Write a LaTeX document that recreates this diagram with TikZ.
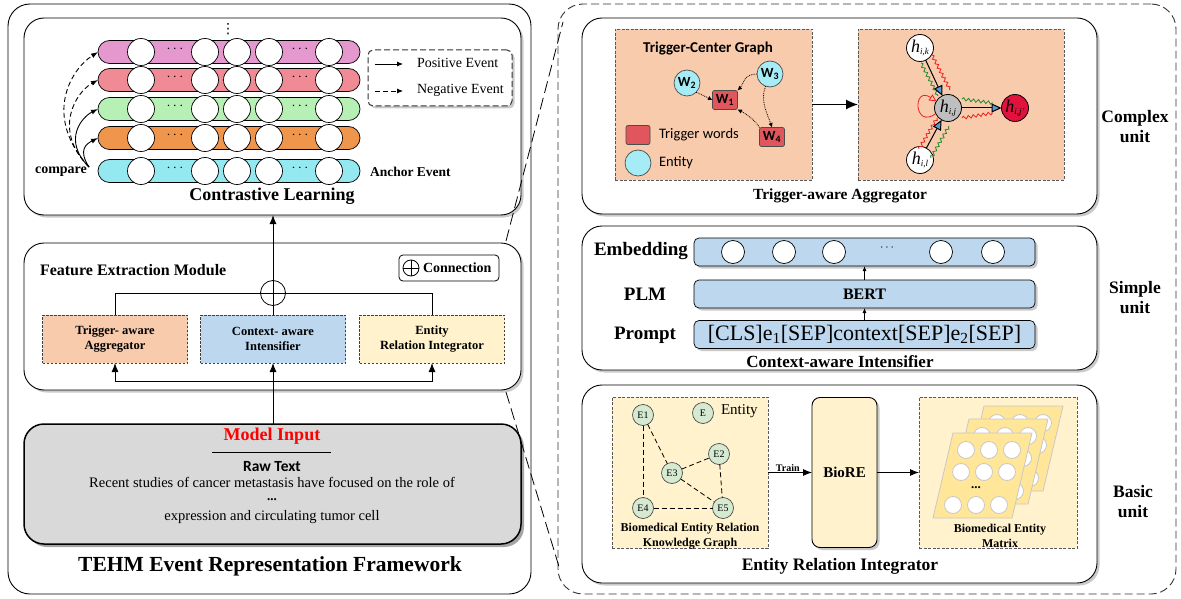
\documentclass[tikz,border=0pt]{standalone}
\usepackage{fontspec}
\setmainfont{Liberation Serif}
\newfontfamily\calib{Carlito}
\newfontfamily\dejavu{DejaVu Sans}
\usetikzlibrary{arrows.meta,shadows,decorations.pathmorphing,calc}
\definecolor{cpink}{RGB}{228,152,206}
\definecolor{cred}{RGB}{240,138,148}
\definecolor{cgreen}{RGB}{182,240,180}
\definecolor{corange}{RGB}{239,150,76}
\definecolor{ccyan}{RGB}{148,232,240}
\definecolor{porange}{RGB}{248,203,173}
\definecolor{pblue}{RGB}{189,215,238}
\definecolor{pyellow}{RGB}{255,242,204}
\definecolor{pgrey}{RGB}{217,217,217}
\definecolor{trig}{RGB}{224,86,92}
\definecolor{ent}{RGB}{166,236,246}
\definecolor{hred}{RGB}{226,18,62}
\definecolor{hgrey}{RGB}{191,191,191}
\definecolor{arrblue}{RGB}{91,155,213}
\definecolor{wgreen}{RGB}{30,140,40}
\definecolor{wred}{RGB}{240,30,30}
\definecolor{kgnode}{RGB}{214,234,210}
\definecolor{sheet}{RGB}{255,230,153}
\definecolor{sheetline}{RGB}{200,200,200}
\newcommand\fsz[2]{\fontsize{#1}{#2}\selectfont}
\newcommand\hsub[1]{\textit{h}\raisebox{-2.5pt}{\fsz{9}{9}\itshape #1}}
\newcommand\evrow[3]{%
  \node[capsule, fill=#3] (#1) at (229,#2) {};
  \foreach \cx/\k in {141/a,205/b,237/c,269/d,329/e}{\node[ecirc] (#1\k) at (\cx,#2) {};}
  \node[dotsn] (#1dl) at (175,#2-3) {$\cdots$};
  \node[dotsn] (#1dr) at (300,#2-3) {$\cdots$};
}
\newcommand\sheetat[3]{%
  \filldraw[fill=sheet, draw=sheetline, line width=0.8pt] (953+#1,433+#2) -- (1032+#1,433+#2) -- (1012+#1,518+#2) -- (933+#1,518+#2) -- cycle;
  \foreach \sx/\sy in {966/450,989/450,1012/450,961/472,984/472,1007/472,953/505,976/505,999/505}
    {\filldraw[fill=white, draw=sheetline, line width=0.8pt] (\sx+#1,\sy+#2) circle (8.5);}
  #3
}
\begin{document}
\begin{tikzpicture}[x=1pt,y=-1pt,
  every node/.style={inner sep=0pt, outer sep=0pt},
  shadowed/.style={drop shadow={shadow xshift=2.5pt,shadow yshift=-2.5pt,opacity=0.35,fill=black!60}},
  frame/.style={draw=black, line width=0.9pt, rounded corners=22pt},
  panel/.style={draw=black, line width=0.9pt, fill=white, rounded corners=20pt, shadowed},
  dpanel/.style={draw=black!65, dash pattern=on 3pt off 1.5pt, line width=0.8pt},
  capsule/.style={draw=black, line width=0.7pt, rounded corners=11.5pt, minimum width=262pt, minimum height=23pt},
  ecirc/.style={circle, draw=black, line width=0.7pt, fill=white, minimum size=27pt},
  dotsn/.style={font=\fsz{14}{14}},
  lbl/.style={font=\fsz{#1}{#1}},
  blbl/.style={font=\bfseries\fsz{#1}{#1}},
  arr/.style={line width=0.9pt, -{Latex[length=9pt,width=7pt]}},
  sarr/.style={line width=0.9pt, -{Latex[length=7pt,width=5pt]}},
  tarr/.style={line width=0.8pt, -{Latex[length=5pt,width=4pt]}},
  darr/.style={line width=0.8pt, densely dotted, -{Latex[length=4.5pt,width=4.5pt]}},
  febox/.style={draw=black!75, line width=0.8pt, dash pattern=on 2.5pt off 1.5pt, minimum width=145pt, minimum height=48pt, align=center, font=\bfseries\fsz{12.5}{15}},
  bar/.style={draw=black, line width=0.7pt, fill=pblue, rounded corners=5pt, minimum width=341pt, minimum height=28pt, shadowed},
  trigbox/.style={draw=black!70, line width=0.7pt, fill=trig, rounded corners=2pt, minimum width=25pt, minimum height=19pt, font=\calib\bfseries\fsz{14}{14}},
  entc/.style={circle, draw=black!70, line width=0.7pt, fill=ent, minimum size=26pt, font=\calib\bfseries\fsz{14}{14}},
  hnode/.style={circle, draw=black, line width=0.8pt, minimum size=27pt, font=\fsz{18}{18}},
  harr/.style={line width=1pt, -{Triangle[length=10pt,width=9pt,fill=arrblue]}},
  wave/.style={line width=0.8pt, decorate, decoration={snake, amplitude=1.5pt, segment length=5pt}},
  kgn/.style={circle, draw=black!70, line width=0.7pt, fill=kgnode, minimum size=21pt, font=\fsz{10}{10}},
  kge/.style={line width=0.8pt, dash pattern=on 5pt off 3pt}
]
\useasboundingbox (0,0) rectangle (1181,599);

% ================= LEFT PART =================
\node[frame, minimum width=523pt, minimum height=590pt] (outerL) at (269.5,299) {};

% Contrastive learning
\node[panel, minimum width=497pt, minimum height=197pt] (cl) at (272.5,116.5) {};
\node[font=\dejavu\fsz{14}{14}] (vd) at (228,29) {⋮};
\evrow{rp}{52}{cpink}
\evrow{rr}{80}{cred}
\evrow{rg}{109}{cgreen}
\evrow{ro}{138}{corange}
\evrow{rc}{171}{ccyan}
\node[blbl=14] (cmp) at (61,172) {compare};
\coordinate (cmpo) at (89,167);
\draw[sarr] (cmpo) .. controls +(-11,-17) and +(-12,6) .. (ro.west);
\draw[sarr] (cmpo) .. controls +(-27,-27) and +(-16,8) .. (rg.west);
\draw[sarr, dash pattern=on 5pt off 3pt] (cmpo) .. controls +(-37,-37) and +(-22,12) .. (rr.west);
\draw[sarr, dash pattern=on 5pt off 3pt] (cmpo) .. controls +(-46,-50) and +(-28,18) .. (rp.west);
\node[blbl=13.5, anchor=west] (anch) at (370,172) {Anchor Event};
\node[draw=black!80, line width=1pt, dash pattern=on 6pt off 3pt, rounded corners=5pt, minimum width=144pt, minimum height=56pt, fill=white, shadowed] (leg) at (440,78) {};
\coordinate (lp1) at (375,64); \coordinate (lp2) at (403,64);
\coordinate (ln1) at (375,91); \coordinate (ln2) at (403,91);
\draw[line width=0.8pt, -{Latex[length=6pt,width=5pt]}] (lp1) -- (lp2);
\draw[line width=0.8pt, dash pattern=on 5pt off 3pt, -{Latex[length=6pt,width=5pt]}] (ln1) -- (ln2);
\node[lbl=14, anchor=west] (legp) at (417,63) {Positive Event};
\node[lbl=14, anchor=west] (legn) at (417,90) {Negative Event};
\node[blbl=18] (clt) at (272,196) {Contrastive Learning};

% Feature extraction
\node[panel, minimum width=497pt, minimum height=147pt] (fe) at (272.5,316.5) {};
\node[blbl=16, anchor=west] (fet) at (40,270) {Feature Extraction Module};
\node[draw=black, line width=0.8pt, rounded corners=4pt, minimum width=100pt, minimum height=26pt, fill=white] (conbox) at (449,268) {};
\node[circle, draw=black, line width=0.8pt, minimum size=16pt] (cplus) at (411,268) {};
\draw[line width=0.8pt] (cplus.north) -- (cplus.south) (cplus.west) -- (cplus.east);
\node[blbl=14, anchor=west] (cont) at (423,268) {Connection};
\node[febox, fill=porange] (b1) at (115,339) {Trigger- aware\\Aggregator};
\node[febox, fill=pblue] (b2) at (273,339) {Context- aware\\Intensifier};
\node[febox, fill=pyellow] (b3) at (432,339) {Entity\\Relation Integrator};
\node[circle, draw=black, line width=0.8pt, minimum size=25pt] (plus) at (273,293) {};
\draw[line width=0.8pt] (plus.north) -- (plus.south) (plus.west) -- (plus.east);
\draw[line width=0.9pt] (b1.north) |- (plus.west);
\draw[line width=0.9pt] (b3.north) |- (plus.east);
\draw[line width=0.9pt] (b2.north) -- (plus.south);
\draw[arr, line width=1pt] (plus.north) -- (cl.south -| plus.north);
\coordinate (jn) at (273,381);

% Model input
\node[draw=black, line width=1.5pt, fill=pgrey, rounded corners=20pt, minimum width=497pt, minimum height=120pt, drop shadow={shadow xshift=3pt,shadow yshift=-3pt,opacity=0.5,fill=black!70}] (mi) at (272.5,484) {};
\draw[arr] (mi.north -| jn) -- (b2.south);
\draw[arr] (jn) -| (b1.south);
\draw[arr] (jn) -| (b3.south);
\node[blbl=18, text=red] (mit) at (272,436) {Model Input};
\coordinate (ul1) at (212,452); \coordinate (ul2) at (331,452);
\draw[line width=1pt] (ul1) -- (ul2);
\node[font=\calib\bfseries\fsz{15.5}{15.5}] (raw) at (272,467) {Raw Text};
\node[lbl=14.5] (rt1) at (272,482) {Recent studies of cancer metastasis have focused on the role of};
\node[blbl=13] (rt2) at (272,500) {...};
\node[lbl=14.5] (rt3) at (272,517) {expression and circulating tumor cell};
\node[blbl=21.5] (tehm) at (270,566) {TEHM Event Representation Framework};

% ================= RIGHT PART =================
\node[draw=black!80, line width=0.9pt, dash pattern=on 8pt off 4pt, rounded corners=25pt, minimum width=618pt, minimum height=590pt] (rb) at (867,299) {};
\node[panel, minimum width=515pt, minimum height=196pt] (cx) at (839.5,116) {};
\node[panel, minimum width=515pt, minimum height=144pt] (sx) at (839.5,298) {};
\node[panel, minimum width=515pt, minimum height=198pt] (bx) at (839.5,484) {};

% zoom lines
\coordinate (za) at ($(fe.north east)+(-15,-2)$);
\coordinate (zb) at ($(rb.north west)+(5,18)$);
\coordinate (zc) at ($(fe.south east)+(-15,2)$);
\coordinate (zd) at ($(rb.south west)+(2,-24)$);
\draw[line width=0.8pt, dash pattern=on 12pt off 5pt] (za) -- (zb);
\draw[line width=0.8pt, dash pattern=on 12pt off 5pt] (zc) -- (zd);

% ---- complex unit
\node[dpanel, fill=porange, minimum width=197pt, minimum height=151pt] (tcg) at (713.5,104.5) {};
\node[font=\calib\bfseries\fsz{15}{15}] (tcgt) at (708,49) {Trigger-Center Graph};
\node[trigbox] (w1) at (725,100) {W\textsubscript{1}};
\node[entc] (w2) at (687,83) {W\textsubscript{2}};
\node[entc] (w3) at (770,74) {W\textsubscript{3}};
\node[trigbox] (w4) at (772,137) {W\textsubscript{4}};
\draw[darr] (w2.south east) -- (w1.west);
\draw[darr] (w3.west) .. controls +(-14,0) and +(6,-6) .. (w1.north east);
\draw[darr] (w3.250) .. controls +(-6,14) and +(-4,-12) .. (w4.north);
\draw[darr] (w4.north west) .. controls +(-5,-8) and +(8,4) .. (w1.south east);
\node[trigbox, minimum width=24pt] (legt) at (638,135) {};
\node[font=\calib\fsz{14.5}{14.5}, anchor=west] (legtt) at (659,135) {Trigger words};
\node[entc] (lege) at (638,163) {};
\node[font=\calib\fsz{14.5}{14.5}, anchor=west] (legte) at (659,163) {Entity};

\node[dpanel, fill=porange, minimum width=206pt, minimum height=151pt] (agg) at (961,104.5) {};
\draw[line width=1.2pt, -{Latex[length=12pt,width=10pt]}] (tcg.east) -- (agg.west);
\node[hnode, fill=white] (hk) at (920,48) {\hsub{i,k}};
\node[hnode, fill=hgrey] (hj) at (948,108) {\hsub{i,j}};
\node[hnode, fill=hred] (hjp) at (1015,108) {\hsub{i,j'}};
\node[hnode, fill=white] (hl) at (920,160) {\hsub{i,l}};
\coordinate (wr1) at (932,55); \coordinate (wr2) at (950,90);
\coordinate (wg1) at (921,63); \coordinate (wg2) at (938,96);
\draw[wave, wred] (wr1) -- (wr2);
\draw[wave, wgreen] (wg1) -- (wg2);
\coordinate (lr1) at (919,149); \coordinate (lr2) at (937,118);
\coordinate (lg1) at (931,158); \coordinate (lg2) at (949,126);
\draw[wave, wred] (lr1) -- (lr2);
\draw[wave, wgreen] (lg1) -- (lg2);
\coordinate (mg1) at (962,99); \coordinate (mg2) at (993,103);
\coordinate (mr1) at (962,118); \coordinate (mr2) at (993,113);
\draw[wave, wgreen] (mg1) -- (mg2);
\draw[wave, wred] (mr1) -- (mr2);
\draw[harr] (hk) -- (hj);
\draw[harr] (hl) -- (hj);
\draw[harr] (hj) -- (hjp);
\draw[wred, line width=0.8pt, -{Triangle[open,length=7pt,width=7pt]}] (hj.205) .. controls +(-22,16) and +(-24,-16) .. (hj.150);
\node[blbl=15.5] (taat) at (840,196) {Trigger-aware Aggregator};
\node[align=center, font=\bfseries\fsz{17.5}{20}] (cul) at (1135,127) {Complex\\unit};

% ---- simple unit
\node[bar] (emb) at (864.5,252) {};
\foreach \cx/\k in {733/a,784/b,834/c,941/d,993/e}{\node[ecirc, minimum size=23pt] (emb\k) at (\cx,252) {};}
\node[lbl=13] (embd) at (887,248) {$\cdots$};
\node[bar, font=\bfseries\fsz{16}{16}] (bert) at (864.5,294) {BERT};
\node[bar, font=\fsz{22}{22}] (prm) at (864.5,334.5) {[CLS]e\textsubscript{1}[SEP]context[SEP]e\textsubscript{2}[SEP]};
\draw[tarr] (prm.north) -- (bert.south);
\draw[tarr] (bert.north) -- (emb.south);
\node[blbl=19] (embl) at (641,251) {Embedding};
\node[blbl=19] (plml) at (645,294) {PLM};
\node[blbl=19] (prl) at (645,335) {Prompt};
\node[blbl=17] (cail) at (840,362) {Context-aware Intensifier};
\node[align=center, font=\bfseries\fsz{17.5}{20}] (sul) at (1135,298) {Simple\\unit};

% ---- basic unit
\node[dpanel, fill=pyellow, minimum width=156pt, minimum height=151pt] (kg) at (690,472.5) {};
\node[kgn] (e1) at (643,415) {E1};
\node[kgn] (el) at (703,413) {E};
\node[lbl=15, anchor=west] (elt) at (721,411) {Entity};
\node[kgn] (e2) at (719,454) {E2};
\node[kgn] (e3) at (672,473) {E3};
\node[kgn] (e4) at (643,508) {E4};
\node[kgn] (e5) at (723,508) {E5};
\draw[kge] (e1) -- (e3);
\draw[kge] (e1) -- (e4);
\draw[kge] (e3) -- (e2);
\draw[kge] (e3) -- (e5);
\draw[kge] (e2) -- (e5);
\draw[kge] (e4) -- (e5);
\node[align=center, font=\bfseries\fsz{12}{15}] (kgt) at (690,536) {Biomedical Entity Relation\\Knowledge Graph};
\node[draw=black, line width=0.9pt, fill=pyellow, rounded corners=8pt, minimum width=65pt, minimum height=150pt, shadowed, font=\bfseries\fsz{15}{15}] (bio) at (844.5,472.5) {BioRE};
\draw[arr] (kg.east) -- node[above=0.5pt, pos=0.45, font=\bfseries\fsz{10}{10}] (trn) {Train} (bio.west);
\node[dpanel, fill=pyellow, minimum width=158pt, minimum height=151pt] (mat) at (998,472.5) {};
\draw[arr] (bio.east) -- (mat.west);
\sheetat{31}{-27}{}
\sheetat{16}{-14}{}
\sheetat{0}{0}{\node[blbl=13] (mdots) at (976,488) {...};}
\node[align=center, font=\bfseries\fsz{12}{15}] (matt) at (1000,536) {Biomedical Entity\\Matrix};
\node[blbl=17.5] (erit) at (840,566) {Entity Relation Integrator};
\node[align=center, font=\bfseries\fsz{17.5}{20}] (bul) at (1133,502) {Basic\\unit};
\end{tikzpicture}
\end{document}
